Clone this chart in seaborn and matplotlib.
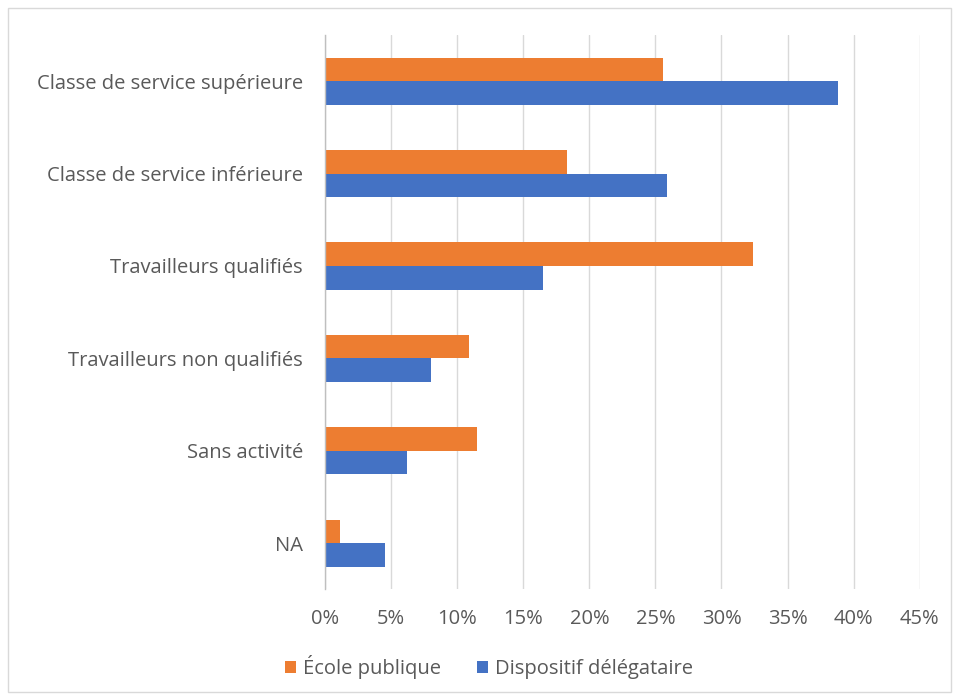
import matplotlib
matplotlib.use("Agg")
import matplotlib.pyplot as plt
import seaborn as sns
import pandas as pd
from matplotlib.patches import Rectangle, Patch
from matplotlib.ticker import PercentFormatter

categories = ["Classe de service supérieure", "Classe de service inférieure",
              "Travailleurs qualifiés", "Travailleurs non qualifiés",
              "Sans activité", "NA"]
ecole_publique = [25.6, 18.3, 32.4, 10.9, 11.5, 1.1]
dispositif = [38.8, 25.9, 16.5, 8.0, 6.2, 4.5]
series_names = ["École publique", "Dispositif délégataire"]
colors = ["#ED7D31", "#4472C4"]

df = pd.DataFrame({
    "cat": categories * 2,
    "val": ecole_publique + dispositif,
    "serie": [series_names[0]] * len(categories) + [series_names[1]] * len(categories),
})

sns.set_theme(style="white")
plt.rcParams['font.family'] = ['Open Sans', 'DejaVu Sans']

fig = plt.figure(figsize=(9.59, 7.0), dpi=100)
ax = fig.add_axes([0.339, 0.158, 0.620, 0.792])

sns.barplot(data=df, y="cat", x="val", hue="serie", order=categories,
            hue_order=series_names, palette=colors, orient="h",
            width=0.51, gap=0, saturation=1, linewidth=0, ax=ax, legend=False)

ax.set_xlim(0, 45)
ax.set_xticks(range(0, 50, 5))
ax.xaxis.set_major_formatter(PercentFormatter(decimals=0))
ax.set_xlabel("")
ax.set_ylabel("")
ax.grid(axis="x", color="#D9D9D9", linewidth=1)
ax.set_axisbelow(True)
for s in ["top", "right", "bottom"]:
    ax.spines[s].set_visible(False)
ax.spines["left"].set_color("#BFBFBF")
ax.spines["left"].set_linewidth(1)
ax.tick_params(axis="both", length=0, labelsize=14.5, colors="#595959")
ax.tick_params(axis="y", pad=16)
ax.tick_params(axis="x", pad=14)

handles = [Patch(facecolor=c, edgecolor="none") for c in colors]
fig.legend(handles, series_names, loc="center", bbox_to_anchor=(0.51, 0.047),
           ncol=2, frameon=False, fontsize=14.5, handlelength=0.55, handleheight=0.55,
           handletextpad=0.35, columnspacing=1.8, labelcolor="#595959")

fig.patches.append(Rectangle((8 / 959, 8 / 700), 943 / 959, 684 / 700,
                             transform=fig.transFigure, fill=False,
                             edgecolor="#D9D9D9", linewidth=1))

fig.savefig("out.png", dpi=100, facecolor="white")
